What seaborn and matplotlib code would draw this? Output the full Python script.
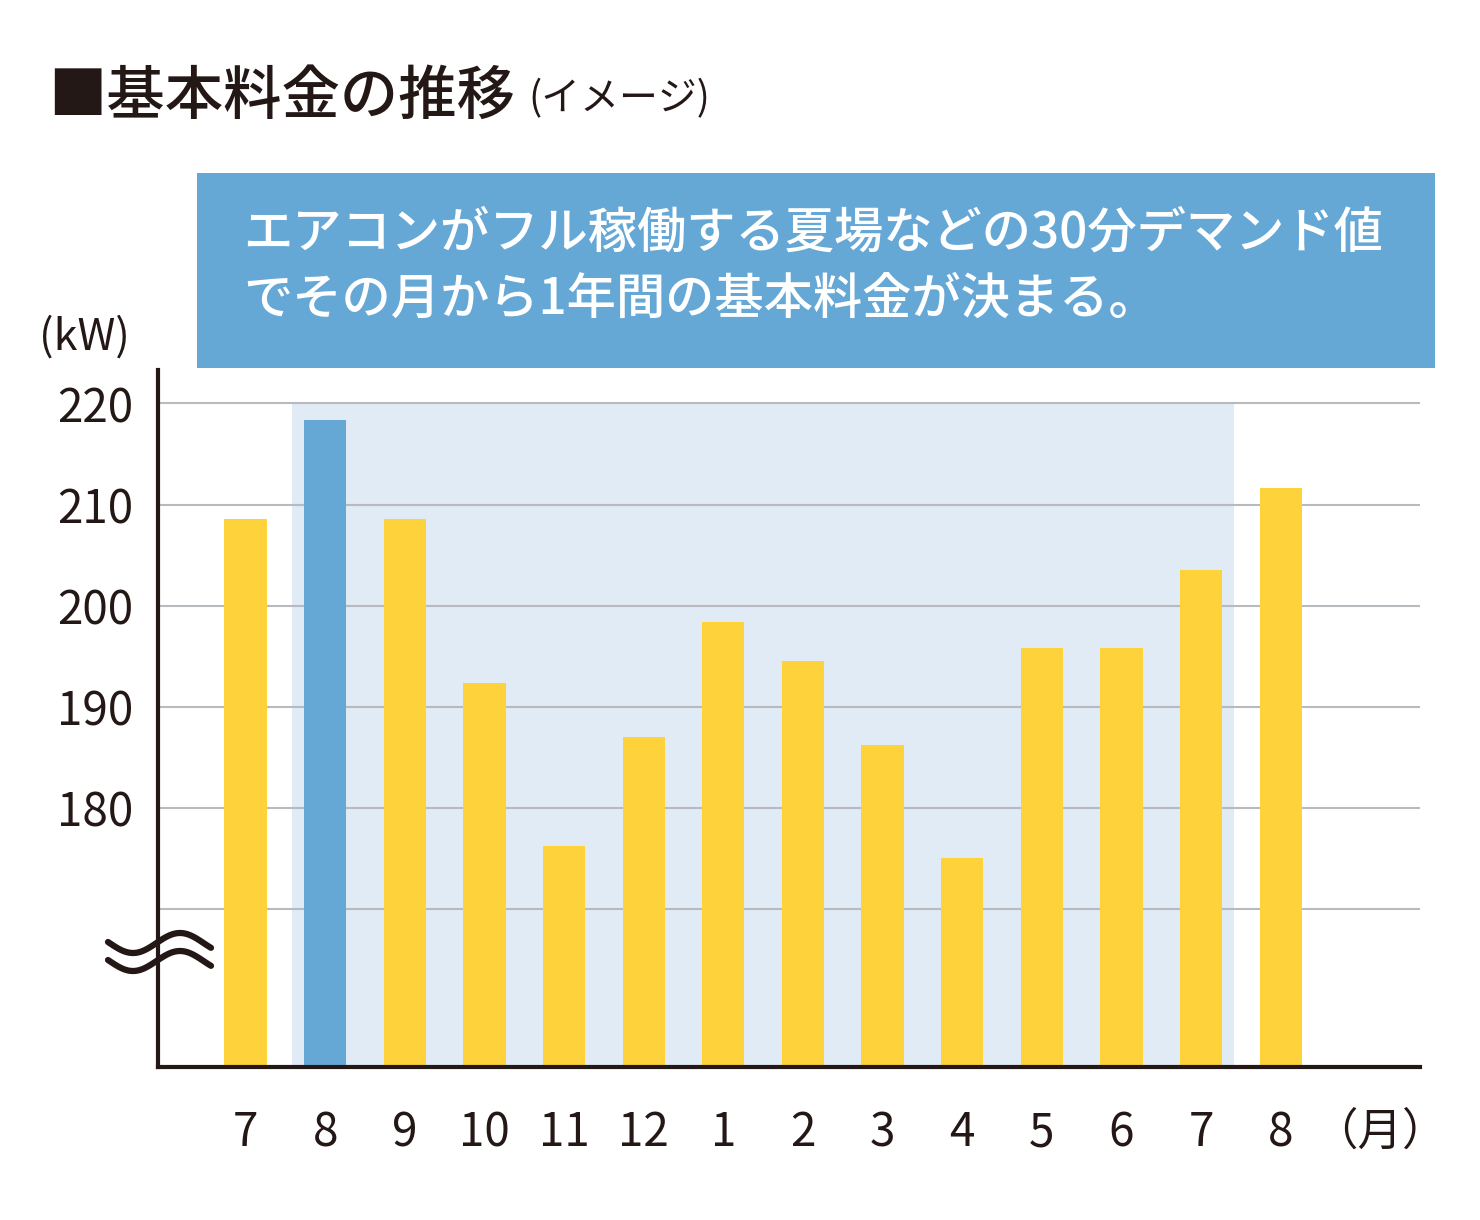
import numpy as np
import pandas as pd
import matplotlib
matplotlib.use('Agg')
import matplotlib.pyplot as plt
from matplotlib.patches import Rectangle
from matplotlib.lines import Line2D
import seaborn as sns

# ── Datos ──────────────────────────────────────────────────────────────────
months  = ["7", "8", "9", "10", "11", "12", "1", "2", "3", "4", "5", "6", "7", "8"]
demand  = [208.6, 218.4, 208.6, 192.4, 176.2, 187.0, 198.4, 194.5,
           186.2, 175.1, 195.8, 195.8, 203.5, 211.6]
peak_idx = 1  # 8月: その月から1年間の基本料金が決まる
yticks   = [180, 190, 200, 210, 220]
grid_lv  = [170, 180, 190, 200, 210, 220]

YELLOW = "#fdd23b"
BLUE   = "#65a8d6"
SHADE  = "#e1ebf5"
INK    = "#231815"

sns.set_theme(style="white")
plt.rcParams['font.family'] = ['Noto Sans CJK JP', 'DejaVu Sans']

df = pd.DataFrame({"idx": range(len(months)), "month": months, "kw": demand})
palette = [BLUE if i == peak_idx else YELLOW for i in df["idx"]]

W, H = 1480, 1220
fig = plt.figure(figsize=(W / 100, H / 100), dpi=100)
ax = fig.add_axes([158 / W, 1 - 1067 / H, (1420 - 158) / W, (1067 - 370) / H])

ymin, ymax = 154.4, 223.3

# 1年間の範囲（薄い青）
ax.fill_between([0.58, 12.41], ymin, 220, color=SHADE, lw=0, zorder=0)
for g in grid_lv:
    ax.axhline(g, color="#b7bbbf", lw=1.5, zorder=1)

sns.barplot(data=df, x="idx", y="kw", hue="idx", palette=palette, legend=False,
            width=0.53, saturation=1, linewidth=0, ax=ax, zorder=2)
ax.set_ylim(ymin, ymax)
ax.set_xlim(-1.1, 14.75)

ax.set_xticks(range(len(months)))
ax.set_xticklabels(months, fontsize=33, color=INK)
ax.set_yticks(yticks)
ax.set_yticklabels([str(v) for v in yticks], fontsize=33, color=INK)
ax.tick_params(axis='x', length=0, pad=30)
ax.tick_params(axis='y', length=0, pad=18)
ax.set_xlabel("")
ax.set_ylabel("")
for s in ["top", "right"]:
    ax.spines[s].set_visible(False)
for s in ["left", "bottom"]:
    ax.spines[s].set_color(INK)
    ax.spines[s].set_linewidth(3)
    ax.spines[s].set_zorder(5)

# 省略記号（波線）
xs = np.linspace(108, 211, 80)
for yc in (943, 961):
    ys = yc + 10 * np.sin((xs - 133) * 2 * np.pi / 94 + np.pi / 2)
    fig.add_artist(Line2D(xs / W, 1 - ys / H, color=INK, lw=4.5,
                          solid_capstyle='round', zorder=10))

# タイトル
fig.text(48 / W, 1 - 97 / H, "■基本料金の推移", fontsize=42, fontweight='medium',
         color=INK, va='center', ha='left')
fig.text(528 / W, 1 - 99 / H, "(イメージ)", fontsize=28, color=INK,
         va='center', ha='left')

# 説明ボックス
fig.add_artist(Rectangle((197 / W, 1 - 368 / H), (1435 - 197) / W, (368 - 173) / H,
                         transform=fig.transFigure, color=BLUE, lw=0, zorder=0))
fig.text(243 / W, 1 - 233 / H, "エアコンがフル稼働する夏場などの30分デマンド値",
         fontsize=35.5, fontweight='medium', color="white", va='center', ha='left')
fig.text(243 / W, 1 - 300 / H, "でその月から1年間の基本料金が決まる。",
         fontsize=35.5, fontweight='medium', color="white", va='center', ha='left')

fig.text(84 / W, 1 - 338 / H, "(kW)", fontsize=31, color=INK, va='center', ha='center')
fig.text(1380 / W, 1 - 1132 / H, "（月）", fontsize=32, color=INK, va='center', ha='center')

plt.savefig('out.png', dpi=100)
plt.close()
